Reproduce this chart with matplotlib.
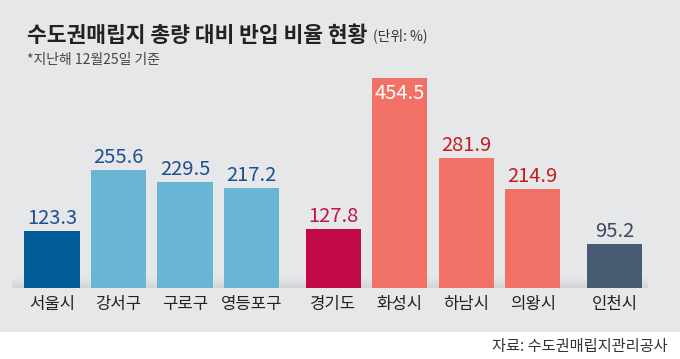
import matplotlib
matplotlib.use("Agg")
import matplotlib.pyplot as plt
from matplotlib.patches import Rectangle
from matplotlib.colors import LinearSegmentedColormap
import numpy as np

plt.rcParams['font.family'] = ['Noto Sans CJK KR', 'DejaVu Sans']

categories = ["서울시", "강서구", "구로구", "영등포구", "경기도", "화성시", "하남시", "의왕시", "인천시"]
values = [123.3, 255.6, 229.5, 217.2, 127.8, 454.5, 281.9, 214.9, 95.2]
positions = [0, 1, 2, 3, 4.23, 5.23, 6.23, 7.23, 8.46]
bar_colors = ["#015b94", "#6bb5d4", "#6bb5d4", "#6bb5d4", "#c20a47",
              "#f27166", "#f27166", "#f27166", "#475b73"]
label_colors = ["#1e4f8e", "#1e4f8e", "#1e4f8e", "#1e4f8e", "#c2134a",
                "white", "#c41e1e", "#c41e1e", "#3a4b60"]

bg = "#e6e7e9"
fig = plt.figure(figsize=(6.8, 3.59), dpi=100, facecolor="white")

# gray panel behind the chart
fig.patches.append(Rectangle((0, 27 / 359), 1, 1 - 27 / 359, transform=fig.transFigure,
                             facecolor=bg, edgecolor="none", zorder=-5))

ax = fig.add_axes([0, 71 / 359, 1, 288 / 359])
ax.patch.set_alpha(0)

# soft shadow along the baseline
grad = np.linspace(0, 1, 50).reshape(-1, 1)
shade = LinearSegmentedColormap.from_list("s", [bg, "#d3d4d7"])
ax.imshow(grad, extent=(-0.6, 8.95, 0, 22), aspect="auto", cmap=shade,
          origin="upper", zorder=1)

ax.bar(positions, values, width=0.83, color=bar_colors, zorder=2)
ax.set_xlim(-52 / 66.5, (680 - 52) / 66.5)
ax.set_ylim(0, 623)

for x, v, c in zip(positions, values, label_colors):
    if c == "white":
        ax.text(x, v - 10, f"{v}", ha="center", va="top", fontsize=14.5, color=c, zorder=3)
    else:
        ax.text(x, v + 4, f"{v}", ha="center", va="bottom", fontsize=14.5, color=c, zorder=3)

for s in ax.spines.values():
    s.set_visible(False)
ax.set_yticks([])
ax.set_xticks(positions)
ax.set_xticklabels(categories, fontsize=12, color="#222222")
ax.tick_params(axis="x", length=0, pad=6)

fig.text(27 / 680, 1 - 35 / 359, "수도권매립지 총량 대비 반입 비율 현황", fontsize=15.5,
         fontweight="bold", color="#222222", va="center", ha="left")
fig.text(373 / 680, 1 - 36 / 359, "(단위: %)", fontsize=10, color="#333333", va="center", ha="left")
fig.text(27 / 680, 1 - 60 / 359, "*지난해 12월25일 기준", fontsize=10, color="#444444", va="center", ha="left")
fig.text(668 / 680, 1 - 347 / 359, "자료: 수도권매립지관리공사", fontsize=11, color="#333333",
         va="center", ha="right")

fig.savefig("out.png", dpi=100, facecolor="white")
